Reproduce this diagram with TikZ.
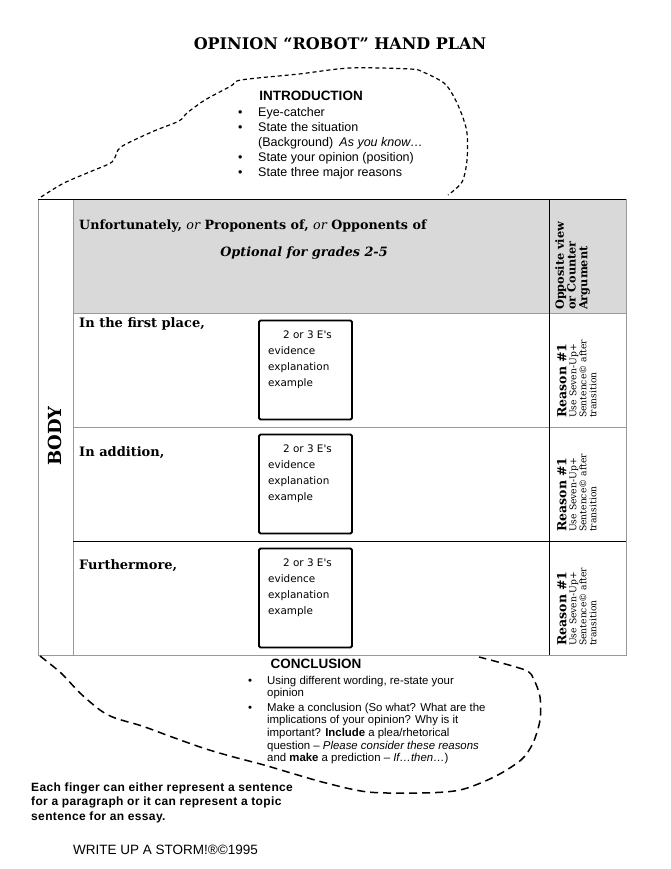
\documentclass[tikz,border=0pt]{standalone}
\usepackage{fontspec}
\setmainfont{Liberation Sans}
\newfontfamily\bkfont{DejaVu Serif}
\newfontfamily\comicfont{DejaVu Sans}
\newfontfamily\spacedfont[LetterSpace=3]{Liberation Sans}
\newcommand\fsz[2]{\fontsize{#1}{#2}\selectfont}
\usetikzlibrary{calc}

\begin{document}
\begin{tikzpicture}[x=1pt, y=-1pt,
  rule/.style={draw=black!40, line width=0.9pt}, darkrule/.style={draw=black, line width=1pt},
  cloud/.style={line width=1.2pt, dash pattern=on 4pt off 3pt},
  rowlab/.style={anchor=base west, inner sep=0pt, font=\bkfont\bfseries\fsz{13}{14}},
  ebox/.style={draw, line width=1.8pt, rounded corners=1.5pt, anchor=north west, minimum width=93pt, minimum height=99pt, inner sep=0pt, outer sep=0pt},
  etext/.style={anchor=base west, inner sep=0pt, font=\comicfont\fsz{10.4}{16}},
  side/.style={rotate=90, anchor=north west, inner sep=0pt, font=\bkfont\fsz{9.2}{10}}]
\useasboundingbox (0,0) rectangle (670,869);
\node[anchor=base, font=\bkfont\bfseries\fsz{16}{18}] (title) at (340,50) {OPINION “ROBOT” HAND PLAN};
\draw[cloud] plot[smooth, tension=0.5] coordinates {(41,197) (64,183) (92,171) (112,162) (118,150) (126,144) (154,131) (179,121) (187,113) (205,100) (231,86) (241,80) (299,74) (350,68) (410,69) (423,72) (444,83) (454,97) (462,115) (467,133) (467,160) (462,182) (448,195)};
\node[anchor=base, font=\bfseries\fsz{13.5}{15}] (introhead) at (311,101) {INTRODUCTION};
\node[anchor=base west, inner sep=0pt, font=\fsz{12.5}{15}] (intro) at (238,117) {\begin{tabular}[t]{@{}p{20pt}@{}l@{}}\textbullet & Eye-catcher\\ \textbullet & State the situation\\ & (Background)\enspace\textit{As you know…}\\ \textbullet & State your opinion (position)\\ \textbullet & State three major reasons\end{tabular}};

\fill[black!15] (73,199) rectangle (626,313);
\draw[rule] (38,199) -- (38,655) -- (626,655) -- (626,199) (73,199) -- (73,655) (73,313) -- (626,313) (73,427) -- (626,427);
\draw[darkrule] (38,199) -- (626,199) (73,541) -- (626,541) (549,199) -- (549,655);
\node[anchor=base west, inner sep=0pt, font=\bkfont\bfseries\fsz{12.7}{14}] (hdr) at (79,229) {Unfortunately, {\mdseries\itshape or} Proponents of, {\mdseries\itshape or} Opponents of};
\node[anchor=base, font=\bkfont\bfseries\itshape\fsz{12.8}{14}] (optional) at (304,256) {Optional for grades 2-5};
\node[side, font=\bkfont\bfseries\fsz{11.3}{11.5}] (opp) at (555,310) {\begin{tabular}{@{}l@{}}Opposite view\\or Counter\\Argument\end{tabular}};
\node[rotate=90, font=\bkfont\bfseries\fsz{18}{20}] (body) at (55,436) {BODY};
\foreach \r/\ry/\lab/\lb in {1/313/{In the first place,}/327, 2/427/{In addition,}/456, 3/541/{Furthermore,}/569}{
  \node[rowlab] (lab\r) at (79,\lb) {\lab};
  \node[ebox] (ebox\r) at (259,\ry+7.5) {};
  \node[etext] (etext\r) at ($(ebox\r.north west)+(9,18)$) {\begin{tabular}[t]{@{}l@{}}\hspace*{15pt}2 or 3 E's\\evidence\\explanation\\example\end{tabular}};
  \node[side] (reason\r) at (557,\ry+105) {\begin{tabular}{@{}l@{}}{\bfseries\fsz{12.5}{12}Reason \#1}\\Use Seven-Up+\\Sentence© after\\transition\end{tabular}};
}

\draw[cloud, line width=1.5pt, dash pattern=on 8pt off 5pt] plot[smooth, tension=0.5] coordinates {(40,656) (61,673) (80,693) (100,710) (115,718) (142,726) (172,737) (203,748) (230,756) (264,765) (291,773) (326,783) (368,792) (421,793) (460,790) (494,777) (521,760) (533,743) (540,720) (540,697) (534,680) (525,670) (479,657)};
\node[anchor=base, font=\bfseries\fsz{13.5}{15}] (conchead) at (316,668) {CONCLUSION};
\node[anchor=base west, inner sep=0pt, font=\fsz{11.4}{12.6}] (conc) at (248,684) {\begin{tabular}[t]{@{}p{19pt}@{}l@{}}\textbullet & Using different wording, re-state your\\ & opinion\\[2pt] \textbullet & Make a conclusion (So what? What are the\\ & implications of your opinion? Why is it\\ & important? \textbf{Include} a plea/rhetorical\\ & question – \textit{Please consider these reasons}\\ & and \textbf{make} a prediction – \textit{If…then…})\end{tabular}};
\node[anchor=base west, inner sep=0pt, font=\spacedfont\bfseries\fsz{12}{14.5}] (note) at (31,791) {\begin{tabular}[t]{@{}l@{}}Each finger can either represent a sentence\\for a paragraph or it can represent a topic\\sentence for an essay.\end{tabular}};
\node[anchor=base west, inner sep=0pt, font=\fsz{13.5}{14}] (storm) at (73,854) {WRITE UP A STORM!®©1995};
\end{tikzpicture}
\end{document}
